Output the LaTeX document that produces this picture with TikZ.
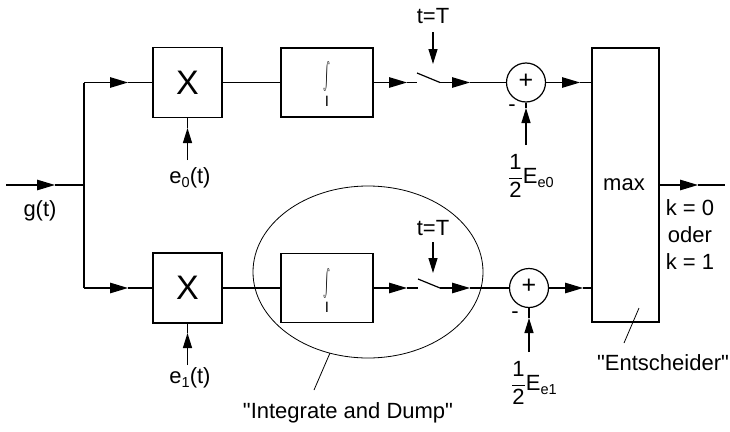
\documentclass[tikz,border=0pt]{standalone}
\usepackage{fontspec}
\setmainfont{Liberation Sans}[Ligatures=TeXOff]
\usetikzlibrary{arrows.meta,shapes.geometric}
\newcommand{\sbs}[1]{\raisebox{-0.35ex}{\fontsize{14.5}{14.5}\selectfont #1}}
\begin{document}
\begin{tikzpicture}[x=1pt,y=-1pt,
  line width=1.2pt,
  txt/.style={font=\fontsize{22}{26}\selectfont, inner sep=0pt},
  blk/.style={draw, line width=1.2pt, inner sep=0pt},
  har/.style={-{Triangle[length=18pt,width=10.5pt]}},
  var/.style={-{Triangle[length=15pt,width=9pt]}},
  thin/.style={line width=0.8pt},
  intg/.style={inner sep=0pt, font=\fontsize{12}{12}\selectfont},
  lim/.style={inner sep=0pt, font=\fontsize{15}{15}\selectfont}]
\useasboundingbox (0,0) rectangle (730,431);

% input and junction
\coordinate (in) at (6,185);
\coordinate (inT) at (55,185);
\coordinate (j) at (84,185);
\coordinate (jt) at (84,82.5);
\coordinate (jb) at (84,288);
\node[txt] (g) at (40,211) {g(t)};

% blocks
\node[blk, minimum width=69pt, minimum height=70pt, font=\fontsize{34}{34}\selectfont] (x0) at (187.5,82.5) {X};
\node[blk, minimum width=69pt, minimum height=70pt, font=\fontsize{34}{34}\selectfont] (x1) at (187.5,288) {X};
\node[blk, minimum width=92pt, minimum height=69pt] (i0) at (327,82.5) {};
\node[blk, minimum width=92pt, minimum height=69pt] (i1) at (327,288) {};
\node[intg] (int0) at (327,77) {\resizebox*{7pt}{30pt}{$\int$}};
\node[lim] (I0) at (327,101) {$\mathrm{I}$};
\node[intg] (int1) at (327,283) {\resizebox*{7pt}{30pt}{$\int$}};
\node[lim] (I1) at (327,307) {$\mathrm{I}$};
\node[blk, circle, minimum size=39pt] (s0) at (526,82.5) {};
\node[blk, circle, minimum size=39pt] (s1) at (529,288) {};
\node[txt, font=\fontsize{25}{25}\selectfont] (p0) at (526,81) {+};
\node[txt, font=\fontsize{25}{25}\selectfont] (p1) at (529,286.5) {+};
\node[blk, minimum width=67pt, minimum height=274pt] (mx) at (625.5,185) {};
\node[txt] (mxl) at (624,185) {max};

% input
\draw[har] (in) -- (inT);
\draw (inT) -- (j);
\draw (jt) -- (jb);
% top branch
\coordinate (tA) at (128,82.5);
\draw[har] (jt) -- (tA); \draw (tA) -- (x0.west);
\draw (x0.east) -- (i0.west);
\coordinate (sw0a) at (417,82.5);
\coordinate (sw0b) at (417,73);
\coordinate (sw0c) at (440,82.5);
\coordinate (iA0) at (407,82.5);
\draw[har] (i0.east) -- (iA0); \draw (iA0) -- (sw0a);
\draw (sw0b) -- (sw0c);
\coordinate (sA0) at (470,82.5);
\draw[har] (sw0c) -- (sA0); \draw (sA0) -- (s0.west);
\coordinate (mA0) at (580,82.5);
\draw[har] (s0.east) -- (mA0); \draw (mA0) -- (mx.west |- s0.east);
% bottom branch
\coordinate (tB) at (128,288);
\draw[har] (jb) -- (tB); \draw (tB) -- (x1.west);
\draw (x1.east) -- (i1.west);
\coordinate (sw1a) at (418,288);
\coordinate (sw1b) at (418,279);
\coordinate (sw1c) at (440,288);
\coordinate (iA1) at (407,288);
\draw[har] (i1.east) -- (iA1); \draw (iA1) -- (sw1a);
\draw (sw1b) -- (sw1c);
\coordinate (sA1) at (470,288);
\draw[har] (sw1c) -- (sA1); \draw (sA1) -- (s1.west);
\coordinate (mA1) at (583,288);
\draw[har] (s1.east) -- (mA1); \draw (mA1) -- (mx.west |- s1.east);

% multiplier inputs
\coordinate (e0s) at (187.5,160);
\coordinate (e0t) at (187.5,128);
\draw[var] (e0s) -- (e0t); \draw (e0t) -- (x0.south);
\node[txt] (e0) at (190,178) {e\sbs{0}(t)};
\coordinate (e1s) at (187.5,365);
\coordinate (e1t) at (187.5,333);
\draw[var] (e1s) -- (e1t); \draw (e1t) -- (x1.south);
\node[txt] (e1) at (190,378) {e\sbs{1}(t)};

% switch control
\node[txt] (tT0) at (433,16) {t=T};
\coordinate (tT0s) at (433,32);
\coordinate (tT0e) at (433,64);
\draw[var] (tT0s) -- (tT0e);
\node[txt] (tT1) at (433,228) {t=T};
\coordinate (tT1s) at (433,242);
\coordinate (tT1e) at (433,273);
\draw[var] (tT1s) -- (tT1e);

% energy inputs
\coordinate (E0s) at (526,145);
\coordinate (E0t) at (526,108);
\draw[var] (E0s) -- (E0t); \draw (E0t) -- (s0.south);
\node[txt] (m0) at (512,108) {-};
\node[txt] (E0) at (531,176) {$\displaystyle\frac{\hbox{1}}{\hbox{2}}$E\sbs{e0}};
\coordinate (E1s) at (529,352);
\coordinate (E1t) at (529,318);
\draw[var] (E1s) -- (E1t); \draw (E1t) -- (s1.south);
\node[txt] (m1) at (515,315) {-};
\node[txt] (E1) at (534,383) {$\displaystyle\frac{\hbox{1}}{\hbox{2}}$E\sbs{e1}};

% output
\coordinate (oA) at (698,185);
\coordinate (oE) at (725,185);
\draw[har] (mx.east |- mxl) -- (oA); \draw (oA) -- (oE);
\node[txt] (k0) at (690,208) {k = 0};
\node[txt] (od) at (690,235) {oder};
\node[txt] (k1) at (690,262) {k = 1};

% integrate and dump
\node[draw, thin, ellipse, minimum width=230pt, minimum height=172pt, inner sep=0pt] (el) at (368,272) {};
\coordinate (elp) at (330,353);
\coordinate (elq) at (314,390);
\draw[thin] (elp) -- (elq);
\node[txt] (iad) at (348,413) {"Integrate and Dump"};

% Entscheider
\coordinate (enp) at (639,308);
\coordinate (enq) at (624,343);
\draw[thin] (enp) -- (enq);
\node[txt] (ent) at (663,363) {"Entscheider"};
\end{tikzpicture}
\end{document}
